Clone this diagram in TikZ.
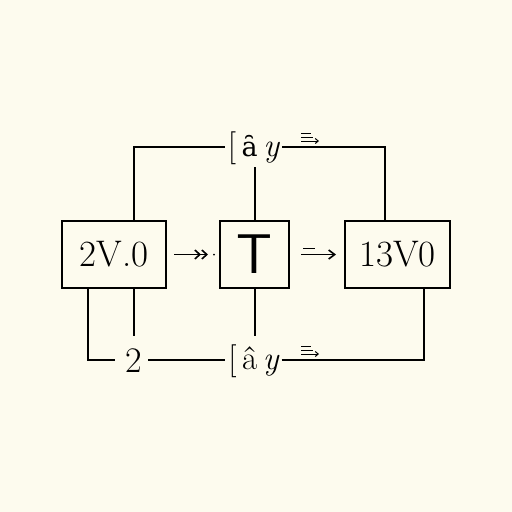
\documentclass[tikz,border=0pt]{standalone}
\usepackage{fontspec}
\newfontfamily\dvserif{DejaVu Serif}
\usetikzlibrary{arrows.meta}
\definecolor{bg}{HTML}{FDFBEE}
\begin{document}
\begin{tikzpicture}[x=1pt,y=-1pt,
  wire/.style={line width=2pt,black},
  boxnode/.style={draw,line width=2pt,inner sep=0pt,anchor=center,font=\fontsize{37}{40}\selectfont},
  lab/.style={inner sep=0pt,anchor=center,font=\fontsize{33}{36}\selectfont}]
\fill[bg] (0,0) rectangle (512,512);
\useasboundingbox (0,0) rectangle (512,512);
\node[boxnode,minimum width=104pt,minimum height=67pt] (L) at (114,254.5) {2V.0};
\node[boxnode,minimum width=69pt,minimum height=67pt,font=\sffamily\fontsize{56}{60}\selectfont] (M) at (254.5,254.5) {T};
\node[boxnode,minimum width=105pt,minimum height=67pt] (R) at (397.5,254.5) {13V0};
\node[lab] (top) at (254,148) {[\,{\dvserif\fontsize{27}{30}\selectfont ȃ}\,\textit{y}};
\node[lab] (bot) at (254,361) {[\,â\,\textit{y}};
\node[lab,font=\fontsize{36}{38}\selectfont] (two) at (134,361) {2};
% top connectors
\coordinate (tl) at (134,147);
\coordinate (tr) at (385,147);
\draw[wire] (L.north -| tl) -- (tl) -- ([xshift=-3pt]top.west |- tl);
\draw[wire] ([xshift=2pt]top.east |- tr) -- (tr) -- (R.north -| tr);
\draw[wire] (M.north) -- ++(0,-53);
% bottom connectors
\coordinate (bl) at (88,360);
\coordinate (br) at (424,360);
\draw[wire] (L.south -| bl) -- (bl) -- ++(27,0);
\draw[wire] (L.south -| two) -- ++(0,47);
\draw[wire] ([xshift=6pt]two.east |- bl) -- ([xshift=-3pt]bot.west |- bl);
\draw[wire] (M.south) -- ++(0,47);
\draw[wire] ([xshift=2pt]bot.east |- br) -- (br) -- (R.south -| br);
% small symbols near labels
\foreach \yy in {147,360}{
  \draw[line width=1pt] (301,\yy-14) -- ++(10,0);
  \draw[line width=1pt] (301,\yy-10) -- ++(12,0);
  \draw[line width=1pt,-{Straight Barb[length=3pt,width=5pt]}] (301,\yy-6) -- ++(18,0);
}
% arrows between boxes
\draw[line width=1.6pt,-{Straight Barb[length=5pt,width=9pt]Straight Barb[length=5pt,width=9pt]}] ([xshift=7pt]L.east) -- ++(34,0) coordinate (a1);
\fill ([xshift=6pt]a1) circle (1pt);
\draw[line width=1.6pt,-{Straight Barb[length=6pt,width=9pt]}] ([xshift=11pt]M.east) -- ([xshift=-8pt]R.west);
\draw[line width=1.4pt] ([shift={(13pt,6pt)}]M.east) -- ++(12,0);
\end{tikzpicture}
\end{document}
